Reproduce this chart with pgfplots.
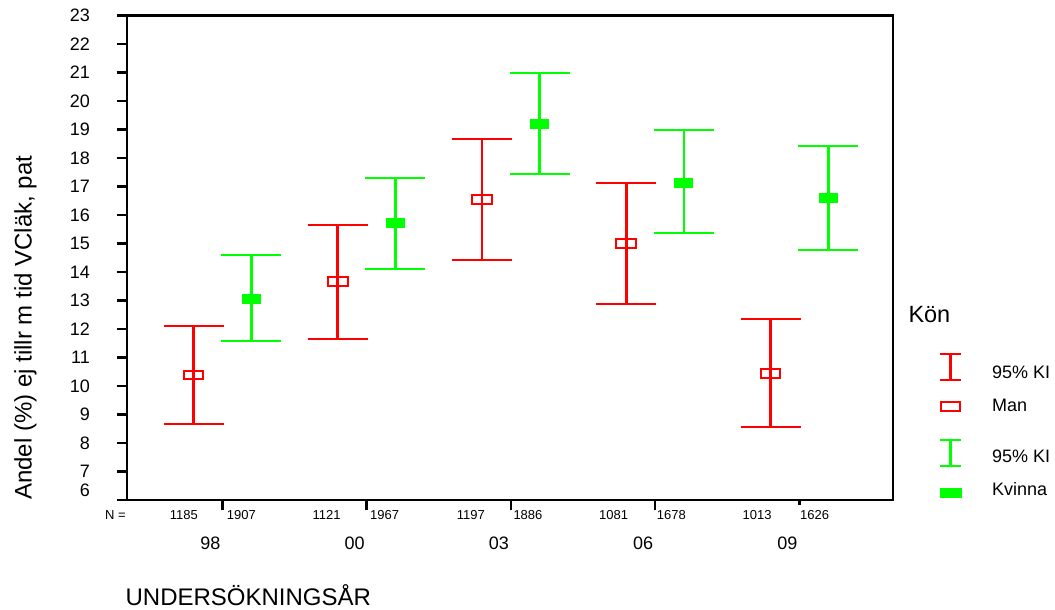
\documentclass[border=0pt]{standalone}
\usepackage{pgfplots}
\pgfplotsset{compat=1.18}
\usepackage{pgfplotstable}
\usepackage{fontspec}
\setmainfont{Liberation Sans}
\definecolor{spssred}{RGB}{255,0,0}
\definecolor{spssgreen}{RGB}{0,255,0}
\pgfdeclareplotmark{manrect}{\pgfpathrectangle{\pgfqpoint{-9.8pt}{-4.3pt}}{\pgfqpoint{19.6pt}{8.6pt}}\pgfusepathqstroke}
\pgfdeclareplotmark{kvrect}{\pgfpathrectangle{\pgfqpoint{-9.5pt}{-5pt}}{\pgfqpoint{19pt}{10pt}}\pgfusepathqfill}

\pgfplotstableread{
x y ep em
-0.2 10.39 1.72 1.71
0.8 13.66 2.01 2.01
1.8 16.54 2.13 2.12
2.8 15.01 2.13 2.13
3.8 10.45 1.91 1.88
}\man
\pgfplotstableread{
x y ep em
0.2 13.06 1.54 1.47
1.2 15.73 1.59 1.61
2.2 19.20 1.79 1.77
3.2 17.14 1.84 1.78
4.2 16.60 1.83 1.83
}\kv

\begin{document}
\begin{tikzpicture}
\begin{axis}[
  scale only axis, width=766pt, height=484.3pt,
  xmin=-0.661, xmax=4.649, ymin=6, ymax=23,
  axis line style={line width=2.5pt, black},
  tick align=outside, major tick length=10pt,
  tick style={black, line width=2.5pt},
  ytick={7,...,23}, extra y ticks={6},
  extra y tick style={yticklabel style={yshift=9.5pt}},
  xtick={0,...,4}, xticklabels={},
  xtick style={shorten <=5pt},
  xtick pos=bottom, ytick pos=left,
  /pgf/number format/assume math mode=true,
  yticklabel style={font=\fontsize{18}{20}\selectfont, anchor=east, inner sep=0pt, xshift=-27pt},
  legend cell align=left,
  legend style={at={(axis description cs:1.0751,0.2777)}, anchor=north west, draw=none, fill=none,
    inner sep=0pt, outer sep=0pt, row sep=20pt, column sep=41.2pt,
    font=\fontsize{18}{20}\selectfont, nodes={inner sep=0pt, text height=13pt, text depth=0pt}},
]
\addplot[spssred, only marks, mark=manrect, mark options={line width=2pt, solid},
  error bars/.cd, y dir=both, y explicit, error mark=|,
  error bar style={line width=2.7pt, spssred},
  error mark options={spssred, line width=2pt, mark size=30pt}]
  table[x=x, y=y, y error plus=ep, y error minus=em] {\man};
\addplot[spssgreen, only marks, mark=kvrect,
  error bars/.cd, y dir=both, y explicit, error mark=|,
  error bar style={line width=2.7pt, spssgreen},
  error mark options={spssgreen, line width=2pt, mark size=30pt}]
  table[x=x, y=y, y error plus=ep, y error minus=em] {\kv};
\legend{}
\end{axis}
\begin{axis}[
  scale only axis, width=766pt, height=484.3pt, hide axis,
  xmin=0, xmax=1, ymin=0, ymax=1,
  legend cell align=left,
  legend style={at={(axis description cs:1.0751,0.2777)}, anchor=north west, draw=none, fill=none,
    inner sep=0pt, outer sep=0pt, row sep=20pt, column sep=41.2pt,
    font=\fontsize{18}{20}\selectfont, nodes={inner sep=0pt, text height=13pt, text depth=0pt}},
]
\addlegendimage{legend image code/.code={
  \draw[overlay, spssred, line width=2.5pt] (0pt,-8pt)--(0pt,18pt);
  \draw[overlay, spssred, line width=2pt] (-10.5pt,-8pt)--(10.5pt,-8pt) (-10.5pt,18pt)--(10.5pt,18pt);
  \path (0pt,0pt);}}
\addlegendentry{95\% KI}
\addlegendimage{legend image code/.code={
  \draw[overlay, spssred, line width=2pt] (-9.5pt,-6.2pt) rectangle (9.5pt,2.8pt);
  \path (0pt,0pt);}}
\addlegendentry{Man}
\end{axis}
\begin{axis}[
  scale only axis, width=766pt, height=484.3pt, hide axis,
  xmin=0, xmax=1, ymin=0, ymax=1,
  legend cell align=left,
  legend style={at={(axis description cs:1.0751,0.1049)}, anchor=north west, draw=none, fill=none,
    inner sep=0pt, outer sep=0pt, row sep=20.3pt, column sep=41.2pt,
    font=\fontsize{18}{20}\selectfont, nodes={inner sep=0pt, text height=13pt, text depth=0pt}},
]
\addlegendimage{legend image code/.code={
  \draw[overlay, spssgreen, line width=2.5pt] (0pt,-10.5pt)--(0pt,15.5pt);
  \draw[overlay, spssgreen, line width=2pt] (-10.5pt,-10.5pt)--(10.5pt,-10.5pt) (-10.5pt,15.5pt)--(10.5pt,15.5pt);
  \path (0pt,0pt);}}
\addlegendentry{95\% KI}
\addlegendimage{legend image code/.code={
  \fill[overlay, spssgreen] (-10.5pt,-8.5pt) rectangle (10pt,0.5pt);
  \path (0pt,0pt);}}
\addlegendentry{Kvinna}
\end{axis}
% N counts and year labels
\begin{scope}[every node/.style={inner sep=0pt}]
\node[anchor=base east, font=\fontsize{13}{15}\selectfont] at (-1pt,-19.7pt) {N =};
\node[anchor=base east, font=\fontsize{13}{15}\selectfont] at (71pt,-19.7pt) {1185};
\node[anchor=base east, font=\fontsize{13}{15}\selectfont] at (213.7pt,-19.7pt) {1121};
\node[anchor=base east, font=\fontsize{13}{15}\selectfont] at (358pt,-19.7pt) {1197};
\node[anchor=base east, font=\fontsize{13}{15}\selectfont] at (501.3pt,-19.7pt) {1081};
\node[anchor=base east, font=\fontsize{13}{15}\selectfont] at (644.7pt,-19.7pt) {1013};
\node[anchor=base west, font=\fontsize{13}{15}\selectfont] at (99.7pt,-19.7pt) {1907};
\node[anchor=base west, font=\fontsize{13}{15}\selectfont] at (243pt,-19.7pt) {1967};
\node[anchor=base west, font=\fontsize{13}{15}\selectfont] at (386.3pt,-19.7pt) {1886};
\node[anchor=base west, font=\fontsize{13}{15}\selectfont] at (529.7pt,-19.7pt) {1678};
\node[anchor=base west, font=\fontsize{13}{15}\selectfont] at (673pt,-19.7pt) {1626};
\node[anchor=base, font=\fontsize{18}{20}\selectfont] at (83.4pt,-50pt) {98};
\node[anchor=base, font=\fontsize{18}{20}\selectfont] at (227.7pt,-50pt) {00};
\node[anchor=base, font=\fontsize{18}{20}\selectfont] at (371.9pt,-50pt) {03};
\node[anchor=base, font=\fontsize{18}{20}\selectfont] at (516.2pt,-50pt) {06};
\node[anchor=base, font=\fontsize{18}{20}\selectfont] at (660.4pt,-50pt) {09};
\node[anchor=base west, font=\fontsize{24}{26}\selectfont] at (-1.6pt,-106pt) {UNDERSÖKNINGSÅR};
\node[anchor=base west, rotate=90, font=\fontsize{24}{26}\selectfont] at (-95.3pt,0pt) {Andel (\%) ej tillr m tid VCläk, pat};
\node[anchor=base west, font=\fontsize{23.5}{26}\selectfont] at (781.3pt,177.6pt) {Kön};
\end{scope}
\pgfresetboundingbox
\path[use as bounding box] (-127pt,-110pt) rectangle (928pt,500pt);
\end{tikzpicture}
\end{document}
